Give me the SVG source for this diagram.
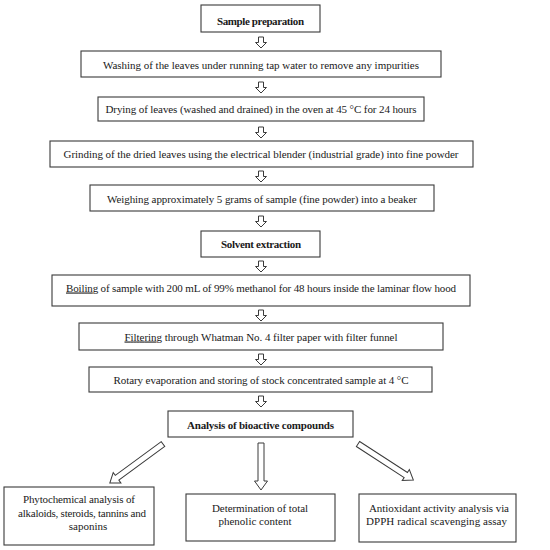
<svg xmlns="http://www.w3.org/2000/svg" width="550" height="550" viewBox="0 0 550 550">
<style>
.box{fill:#fff;stroke:#3a3a3a;stroke-width:1.1}
.t{font-family:"Liberation Serif","DejaVu Serif",serif;font-size:11px;fill:#1a1a1a;text-anchor:middle}
.b{font-weight:bold}
.arr{fill:#fff;stroke:#3a3a3a;stroke-width:1}
</style>
<defs>
<path id="sa" d="M-2.5,0 H2.5 V5.5 H5.5 L0,11 L-5.5,5.5 H-2.5 Z"/>
<path id="la" d="M0,-3 H57 V-6.5 L66,0 L57,6.5 V3 H0 Z"/>
<path id="ma" d="M-3,0 H3 V38 H6.5 L0,47 L-6.5,38 H-3 Z"/>
</defs>
<rect width="550" height="550" fill="#fff"/>
<g id="connectors" class="arr">
<use href="#sa" x="261" y="37"/>
<use href="#sa" x="261" y="82"/>
<use href="#sa" x="261" y="127"/>
<use href="#sa" x="261" y="171"/>
<use href="#sa" x="261" y="216"/>
<use href="#sa" x="261" y="261"/>
<use href="#sa" x="261" y="310"/>
<use href="#sa" x="261" y="354"/>
<use href="#sa" x="261" y="396"/>
<use href="#la" transform="translate(163,444) rotate(143.7)"/>
<use href="#ma" x="261" y="443"/>
<use href="#la" transform="translate(358,444) rotate(33)"/>
</g>
<g id="n1"><rect class="box" x="201" y="5" width="119" height="27"/><text class="t b" x="260.5" y="25" textLength="87">Sample preparation</text></g>
<g id="n2"><rect class="box" x="81" y="51" width="360" height="26"/><text class="t" x="261" y="69" textLength="316">Washing of the leaves under running tap water to remove any impurities</text></g>
<g id="n3"><rect class="box" x="98" y="97" width="326" height="24"/><text class="t" x="261" y="112.5" textLength="311">Drying of leaves (washed and drained) in the oven at 45 °C for 24 hours</text></g>
<g id="n4"><rect class="box" x="50" y="141" width="423" height="26"/><text class="t" x="261" y="157.5" textLength="395">Grinding of the dried leaves using the electrical blender (industrial grade) into fine powder</text></g>
<g id="n5"><rect class="box" x="90" y="185" width="344" height="26"/><text class="t" x="262" y="203" textLength="310">Weighing approximately 5 grams of sample (fine powder) into a beaker</text></g>
<g id="n6"><rect class="box" x="201" y="231" width="119" height="26"/><text class="t b" x="261" y="247.5" textLength="80">Solvent extraction</text></g>
<g id="n7"><rect class="box" x="52" y="275" width="418" height="31"/><text class="t" x="261" y="291.5" textLength="390"><tspan text-decoration="underline">Boiling</tspan> of sample with 200 mL of 99% methanol for 48 hours inside the laminar flow hood</text></g>
<g id="n8"><rect class="box" x="79" y="323" width="364" height="27"/><text class="t" x="261" y="340.5" textLength="273"><tspan text-decoration="underline">Filtering</tspan> through Whatman No. 4 filter paper with filter funnel</text></g>
<g id="n9"><rect class="box" x="89" y="367" width="343" height="25"/><text class="t" x="261" y="384" textLength="295">Rotary evaporation and storing of stock concentrated sample at 4 °C</text></g>
<g id="n10"><rect class="box" x="168" y="411" width="185" height="26"/><text class="t b" x="260.5" y="428.5" textLength="147">Analysis of bioactive compounds</text></g>
<g id="n11"><rect class="box" x="4" y="487" width="150" height="58"/><text class="t" x="79" y="503" textLength="112">Phytochemical analysis of</text><text class="t" x="82" y="516.5" textLength="128">alkaloids, steroids, tannins and</text><text class="t" x="88" y="530">saponins</text></g>
<g id="n12"><rect class="box" x="186" y="494" width="149" height="47"/><text class="t" x="260" y="512" textLength="96">Determination of total</text><text class="t" x="255" y="525">phenolic content</text></g>
<g id="n13"><rect class="box" x="359" y="494" width="157" height="48"/><text class="t" x="439" y="512" textLength="140">Antioxidant activity analysis via</text><text class="t" x="436.5" y="525" textLength="141">DPPH radical scavenging assay</text></g>
</svg>
